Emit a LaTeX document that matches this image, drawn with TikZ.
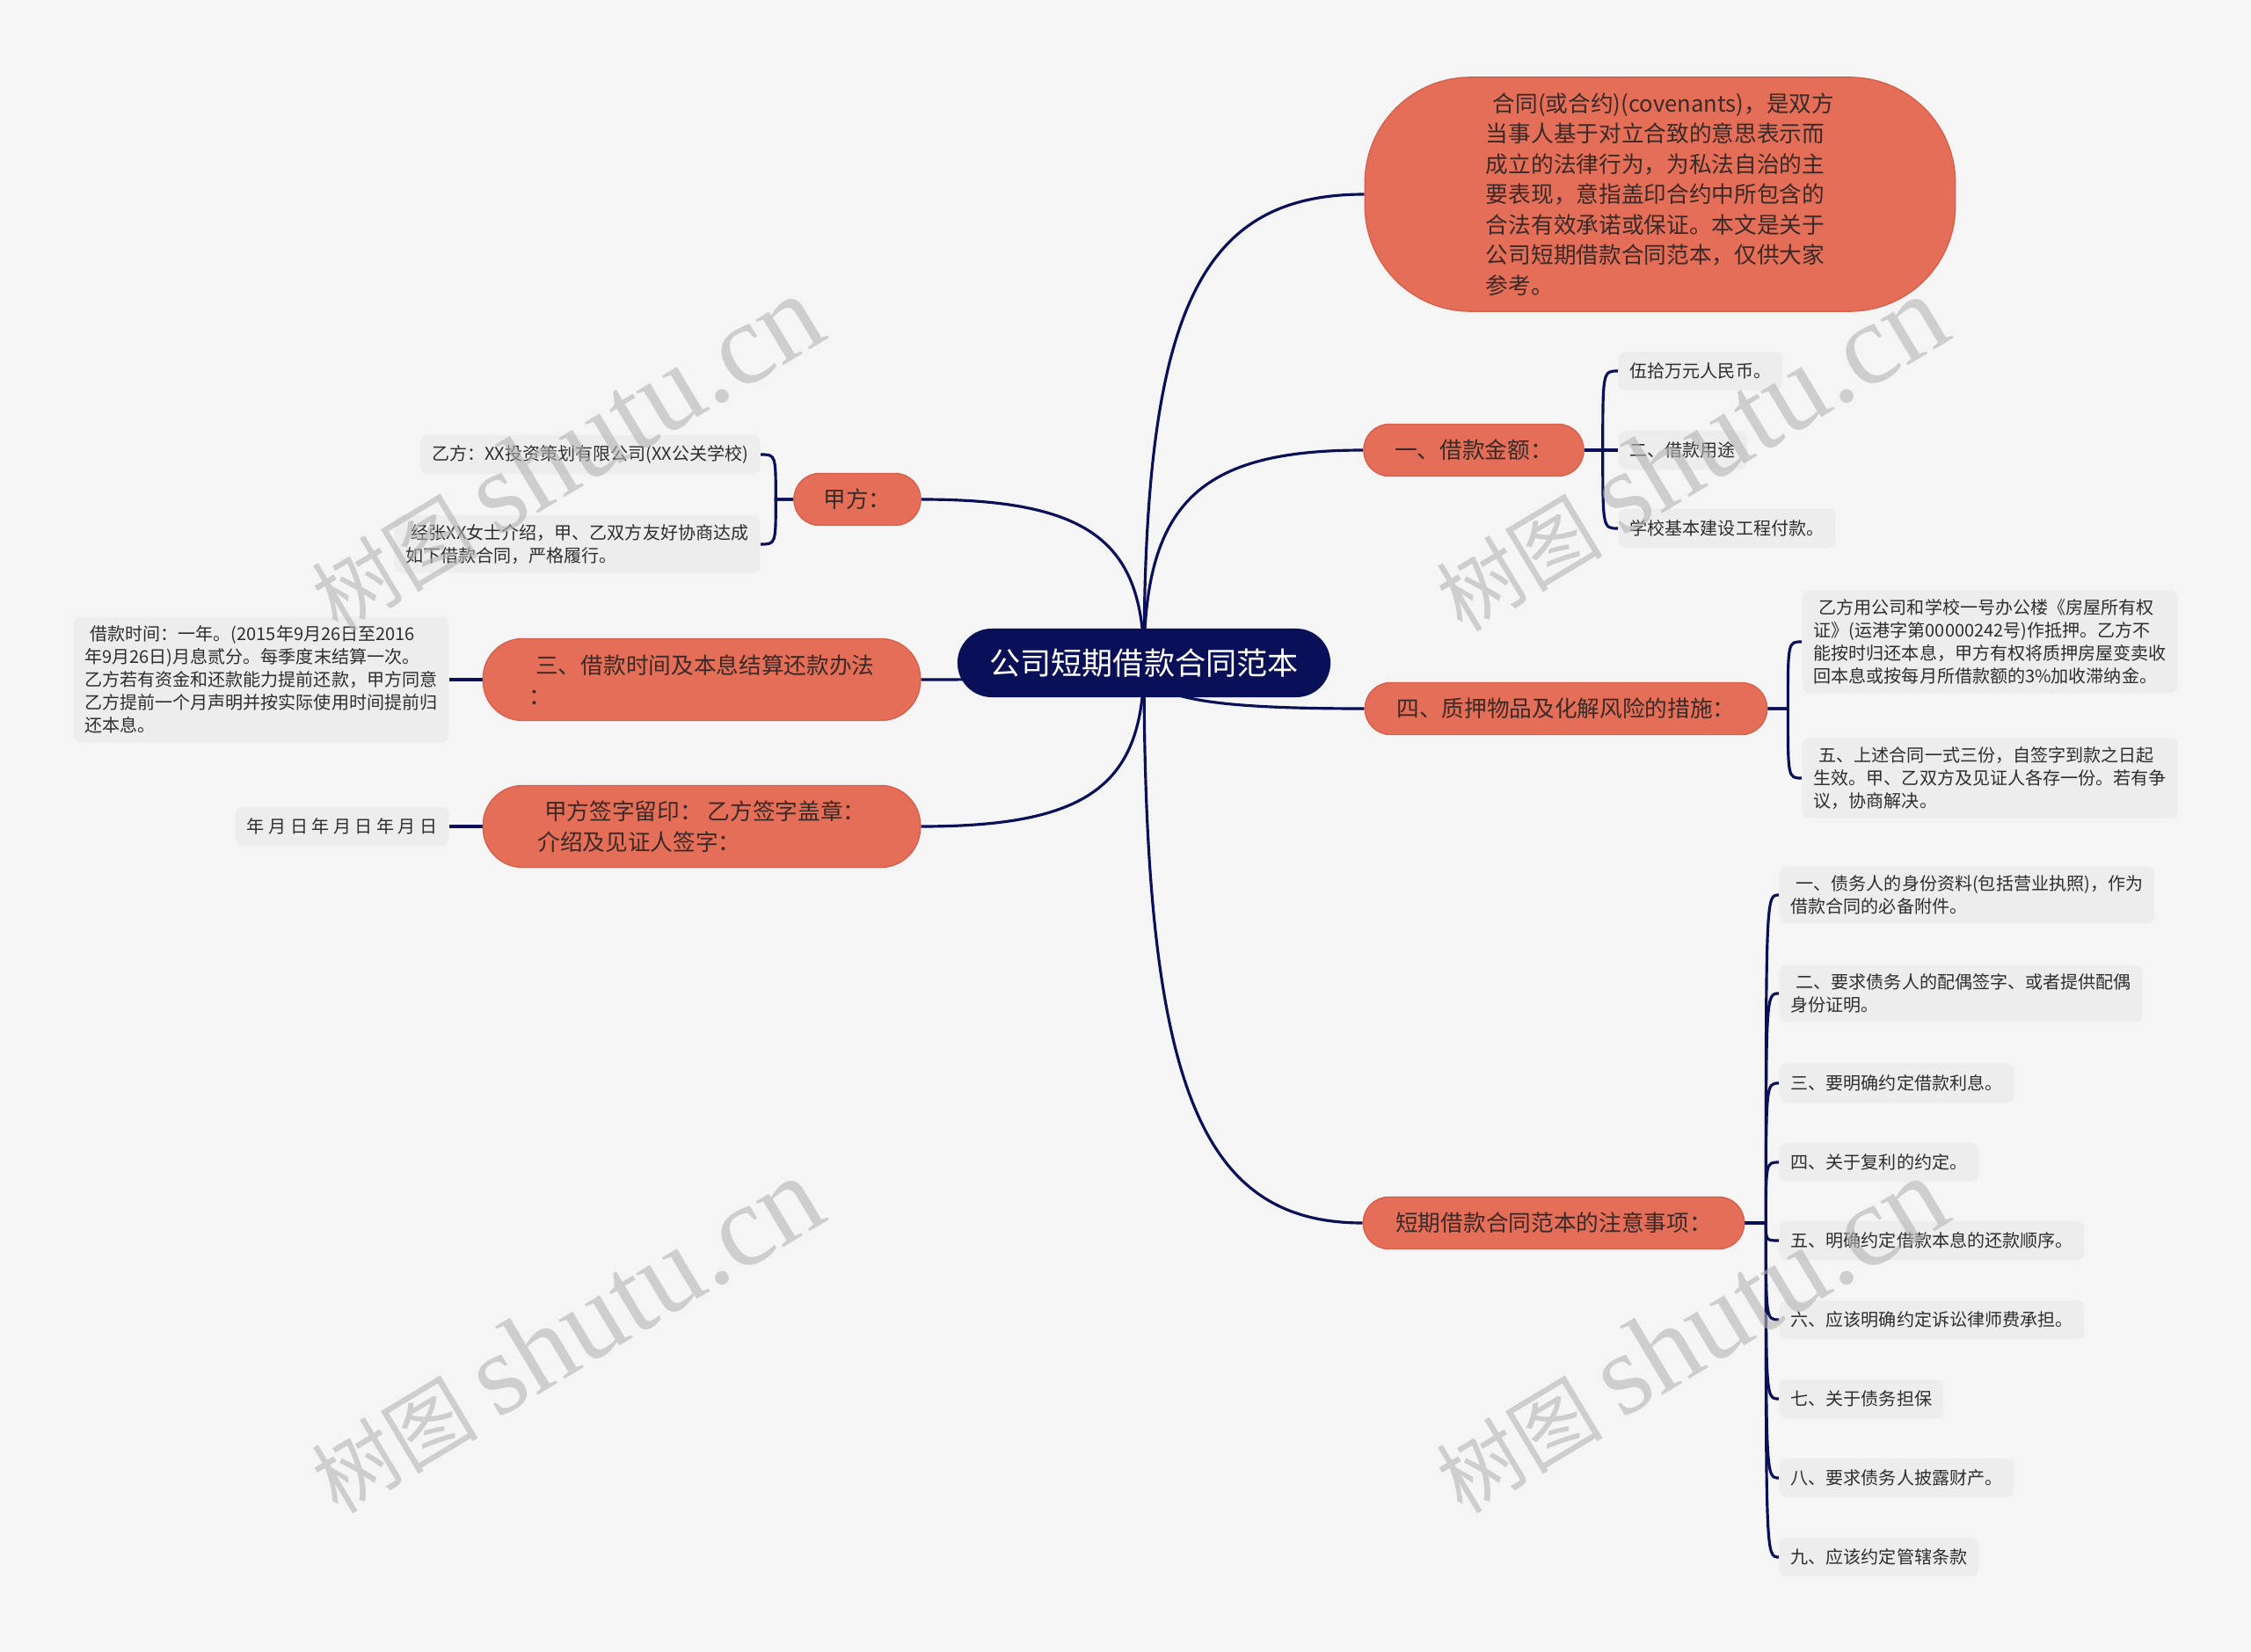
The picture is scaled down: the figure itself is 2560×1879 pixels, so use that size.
\documentclass[tikz,border=0pt]{standalone}
\usepackage{fontspec}
\setmainfont{Noto Sans CJK SC}
\newfontfamily\marklatin{Liberation Serif}
\usetikzlibrary{calc}

\definecolor{navy}{HTML}{0A1058}
\definecolor{coral}{HTML}{E56E58}
\definecolor{coraledge}{HTML}{D5604B}
\definecolor{paper}{HTML}{F5F5F5}
\definecolor{leafbg}{HTML}{EDEDED}
\definecolor{ink}{HTML}{3A2A27}
\definecolor{leafink}{HTML}{2E2E2E}
\definecolor{markgray}{HTML}{B4B4B4}

\pgfdeclarelayer{paperlayer}
\pgfdeclarelayer{links}
\pgfsetlayers{paperlayer,links,main}

\begin{document}
\begin{tikzpicture}[x=0.01cm, y=-0.01cm]

\tikzset{root/.style = {fill=navy, text=white, rounded corners=0.39cm, minimum width=4.24cm, minimum height=0.78cm, font=\fontsize{10}{12}\selectfont}}
\tikzset{branch/.style = {fill=coral, draw=coraledge, line width=0.4pt, text=ink, rounded corners=0.29cm, minimum height=0.59cm, align=left, font=\fontsize{7.3}{9.8}\selectfont}}
\tikzset{leaf/.style = {fill=leafbg, text=leafink, rounded corners=0.08cm, minimum height=0.44cm, inner xsep=0.13cm, inner ysep=0.1cm, align=left, font=\fontsize{5.7}{7.4}\selectfont}}
\tikzset{link/.style = {draw=navy, line width=0.9pt}}
\tikzset{watermark/.style = {text=markgray, opacity=0.6, rotate=31, font=\fontsize{27}{31}\selectfont}}

\useasboundingbox (0,0) rectangle (2560,1879);
\begin{pgfonlayer}{paperlayer}
\fill[paper] (0,0) rectangle (2560,1879);
\end{pgfonlayer}

% centre and main branches
\node[root] (root) at (1301,754) {公司短期借款合同范本};
\node[branch, rounded corners=1.2cm, minimum width=6.71cm, minimum height=2.66cm] (intro) at (1888,221)
  {\hspace*{.3em}合同(或合约)(covenants)，是双方\\当事人基于对立合致的意思表示而\\成立的法律行为，为私法自治的主\\要表现，意指盖印合约中所包含的\\合法有效承诺或保证。本文是关于\\公司短期借款合同范本，仅供大家\\参考。};
\node[branch, minimum width=2.50cm] (amount) at (1676,512) {一、借款金额：};
\node[branch, minimum width=4.57cm] (pledge) at (1781,806) {四、质押物品及化解风险的措施：};
\node[branch, minimum width=4.33cm] (notes) at (1767,1391) {短期借款合同范本的注意事项：};
\node[branch, minimum width=1.44cm] (jia) at (975,568) {甲方：};
\node[branch, minimum width=4.97cm, minimum height=0.93cm, rounded corners=0.45cm] (term) at (798,773)
  {\hspace*{.3em}三、借款时间及本息结算还款办法\\：};
\node[branch, minimum width=4.97cm, minimum height=0.93cm, rounded corners=0.45cm] (sign) at (798,940)
  {\hspace*{.3em}甲方签字留印： 乙方签字盖章：\\介绍及见证人签字：};

% leaves
\node[leaf, anchor=west] (amount1) at (1840,422) {伍拾万元人民币。};
\node[leaf, anchor=west] (amount2) at (1840,512) {二、借款用途};
\node[leaf, anchor=west] (amount3) at (1840,601) {学校基本建设工程付款。};

\node[leaf, anchor=west] (pledge1) at (2049,730)
  {\hspace*{.3em}乙方用公司和学校一号办公楼《房屋所有权\\证》(运港字第00000242号)作抵押。乙方不\\能按时归还本息，甲方有权将质押房屋变卖收\\回本息或按每月所借款额的3\%加收滞纳金。};
\node[leaf, anchor=west] (pledge2) at (2049,885)
  {\hspace*{.3em}五、上述合同一式三份，自签字到款之日起\\生效。甲、乙双方及见证人各存一份。若有争\\议，协商解决。};

\node[leaf, anchor=west] (notes1) at (2023,1018) {\hspace*{.3em}一、债务人的身份资料(包括营业执照)，作为\\借款合同的必备附件。};
\node[leaf, anchor=west] (notes2) at (2023,1130) {\hspace*{.3em}二、要求债务人的配偶签字、或者提供配偶\\身份证明。};
\node[leaf, anchor=west] (notes3) at (2023,1232) {三、要明确约定借款利息。};
\node[leaf, anchor=west] (notes4) at (2023,1322) {四、关于复利的约定。};
\node[leaf, anchor=west] (notes5) at (2023,1411) {五、明确约定借款本息的还款顺序。};
\node[leaf, anchor=west] (notes6) at (2023,1501) {六、应该明确约定诉讼律师费承担。};
\node[leaf, anchor=west] (notes7) at (2023,1591) {七、关于债务担保};
\node[leaf, anchor=west] (notes8) at (2023,1681) {八、要求债务人披露财产。};
\node[leaf, anchor=west] (notes9) at (2023,1771) {九、应该约定管辖条款};

\node[leaf, anchor=east] (jia1) at (865,517) {乙方：XX投资策划有限公司(XX公关学校)};
\node[leaf, anchor=east] (jia2) at (865,619) {\hspace*{.3em}经张XX女士介绍，甲、乙双方友好协商达成\\如下借款合同，严格履行。};
\node[leaf, anchor=east] (term1) at (511,773)
  {\hspace*{.3em}借款时间：一年。(2015年9月26日至2016\\年9月26日)月息贰分。每季度末结算一次。\\乙方若有资金和还款能力提前还款，甲方同意\\乙方提前一个月声明并按实际使用时间提前归\\还本息。};
\node[leaf, anchor=east] (sign1) at (511,940) {年 月 日 年 月 日 年 月 日};

% forks
\coordinate (amountfork) at ($(amount.east)+(21,0)$);
\coordinate (pledgefork) at ($(pledge.east)+(23,0)$);
\coordinate (notesfork) at ($(notes.east)+(24,0)$);
\coordinate (jiafork) at ($(jia.west)+(-20,0)$);

%edges
\begin{pgfonlayer}{links}
\foreach \b in {intro,amount,pledge,notes}
  \draw[link] (root.center) .. controls ($(root.center)!.75!(root.center |- \b.west)$) and ($(\b.west)!.75!(root.center |- \b.west)$) .. (\b.west);
\foreach \b in {jia,term,sign}
  \draw[link] (root.center) .. controls ($(root.center)!.75!(root.center |- \b.east)$) and ($(\b.east)!.75!(root.center |- \b.east)$) .. (\b.east);

\foreach \c in {amount1,amount2,amount3}
  \draw[link] (amount.east) -- (amountfork) .. controls (amountfork |- \c.west) .. (\c.west);
\foreach \c in {pledge1,pledge2}
  \draw[link] (pledge.east) -- (pledgefork) .. controls (pledgefork |- \c.west) .. (\c.west);
\foreach \c in {notes1,notes2,notes3,notes4,notes5,notes6,notes7,notes8,notes9}
  \draw[link] (notes.east) -- (notesfork) .. controls (notesfork |- \c.west) .. (\c.west);
\foreach \c in {jia1,jia2}
  \draw[link] (jia.west) -- (jiafork) .. controls (jiafork |- \c.east) .. (\c.east);
\draw[link] (term.west) -- (term1.east);
\draw[link] (sign.west) -- (sign1.east);
\end{pgfonlayer}

% watermarks
\node[watermark] (mark1) at (643,516) {树图 {\marklatin\fontsize{37.5}{42}\selectfont shutu.cn}};
\node[watermark] (mark2) at (1922,516) {树图 {\marklatin\fontsize{37.5}{42}\selectfont shutu.cn}};
\node[watermark] (mark3) at (643,1519) {树图 {\marklatin\fontsize{37.5}{42}\selectfont shutu.cn}};
\node[watermark] (mark4) at (1922,1519) {树图 {\marklatin\fontsize{37.5}{42}\selectfont shutu.cn}};

\end{tikzpicture}
\end{document}
